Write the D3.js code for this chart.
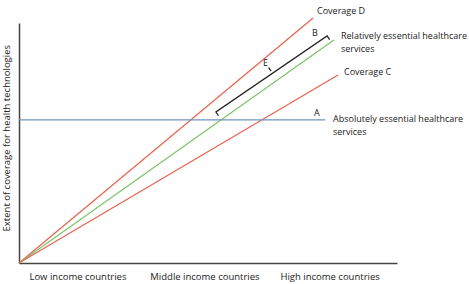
<!DOCTYPE html>
<meta charset="utf-8">
<script src="https://d3js.org/d3.v7.min.js"></script>
<style>
  body { margin: 0; background: #fff; }
  text { font-family: "Open Sans", sans-serif; fill: #222; }
  .axis path { stroke: #444; stroke-width: 1.5px; }
</style>
<body>
<div id="chart"></div>
<script>
  var width = 469,
      height = 284;

  // x categories (income level) and where their labels sit on the 0..100 scale
  var categories = ["Low income countries", "Middle income countries", "High income countries"];
  var categoryPos = [15.6, 49.2, 82.3];

  // coverage lines: start and end points [x, y] on 0..100 scales
  var lineNames = ["Coverage D", "Relatively essential", "Coverage C", "Absolutely essential"];
  var lineStart = [[0, 0], [0, 0], [0, 0], [0, 59.6]];
  var lineEnd = [[77.8, 102.1], [83.3, 92.9], [84.4, 78.3], [81, 59.6]];
  var lineColor = ["#e8624e", "#7cc46c", "#e8624e", "#6f94bb"];

  // bracket "E" between relatively essential line and coverage D
  var bracketStart = [52.1, 62.9];
  var bracketEnd = [81.5, 94.6];
  var bracketMid = [66.7, 79.9];

  var margin = {left: 19, right: 72, top: 23, bottom: 21};

  var x = d3.scaleLinear().domain([0, 100]).range([margin.left, width - margin.right]);
  var y = d3.scaleLinear().domain([0, 100]).range([height - margin.bottom, margin.top]);

  var svg = d3.select("#chart")
      .append("svg")
      .attr("width", width)
      .attr("height", height);

  // axes
  svg.append("g")
      .attr("class", "axis")
      .attr("transform", "translate(0," + y(0) + ")")
      .call(d3.axisBottom(x).tickValues([]).tickSizeOuter(0));

  svg.append("g")
      .attr("class", "axis")
      .attr("transform", "translate(" + x(0) + ",0)")
      .call(d3.axisLeft(y).tickValues([]).tickSizeOuter(0));

  svg.selectAll(".cat")
      .data(categories)
      .enter().append("text")
      .attr("class", "cat")
      .attr("x", function(d, i) { return x(categoryPos[i]); })
      .attr("y", y(0) + 17)
      .attr("text-anchor", "middle")
      .attr("font-size", "9.5px")
      .text(function(d) { return d; });

  svg.append("text")
      .attr("transform", "translate(10," + y(52) + ") rotate(-90)")
      .attr("text-anchor", "middle")
      .attr("font-size", "9.5px")
      .text("Extent of coverage for health technologies");

  // lines
  svg.selectAll(".cov")
      .data(lineNames)
      .enter().append("line")
      .attr("class", "cov")
      .attr("x1", function(d, i) { return x(lineStart[i][0]); })
      .attr("y1", function(d, i) { return y(lineStart[i][1]); })
      .attr("x2", function(d, i) { return x(lineEnd[i][0]); })
      .attr("y2", function(d, i) { return y(lineEnd[i][1]); })
      .attr("stroke", function(d, i) { return lineColor[i]; })
      .attr("stroke-width", 1.2);

  // bracket with hooks pointing down toward the green line
  var bx1 = x(bracketStart[0]), by1 = y(bracketStart[1]),
      bx2 = x(bracketEnd[0]), by2 = y(bracketEnd[1]),
      mx = x(bracketMid[0]), my = y(bracketMid[1]);
  var len = Math.sqrt((bx2 - bx1) * (bx2 - bx1) + (by2 - by1) * (by2 - by1));
  var nx = -(by2 - by1) / len, ny = (bx2 - bx1) / len; // normal
  if (ny < 0) { nx = -nx; ny = -ny; }
  var h = 4.5;
  var path = d3.path();
  path.moveTo(bx1 + nx * h, by1 + ny * h);
  path.lineTo(bx1, by1);
  path.lineTo(bx2, by2);
  path.lineTo(bx2 + nx * h, by2 + ny * h);
  path.moveTo(mx, my);
  path.lineTo(mx - nx * h, my - ny * h);
  svg.append("path")
      .attr("d", path.toString())
      .attr("fill", "none")
      .attr("stroke", "#222")
      .attr("stroke-width", 1.3);

  // labels
  var labels = [
    {t: ["Coverage D"], x: 317, y: 14},
    {t: ["Relatively essential healthcare", "services"], x: 341, y: 39},
    {t: ["Coverage C"], x: 344, y: 75},
    {t: ["Absolutely essential healthcare", "services"], x: 333, y: 122},
    {t: ["B"], x: 312, y: 36},
    {t: ["A"], x: 314, y: 116},
    {t: ["E"], x: 263, y: 66}
  ];
  labels.forEach(function(l) {
    var t = svg.append("text")
        .attr("x", l.x)
        .attr("y", l.y)
        .attr("font-size", "9px");
    l.t.forEach(function(s, i) {
      t.append("tspan").attr("x", l.x).attr("dy", i ? 12.5 : 0).text(s);
    });
  });
</script>
</body>
